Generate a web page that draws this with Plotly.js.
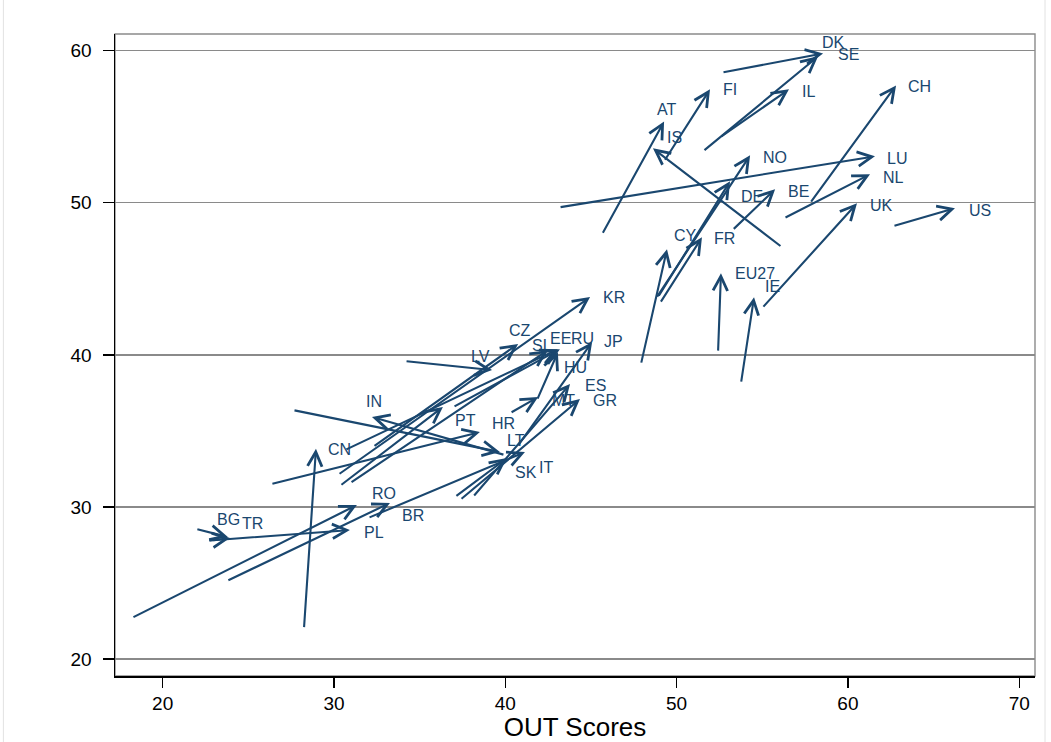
<!DOCTYPE html>
<html>
<head>
<meta charset="utf-8">
<script src="https://cdn.plot.ly/plotly-3.0.1.min.js"></script>
<style>
  html, body { margin: 0; padding: 0; background: #fff; }
  #chart { width: 1051px; height: 742px; }
</style>
</head>
<body>
<div id="chart"></div>
<script>
// Country codes and the start / end of each country's move
const country = ['DK','SE','IL','FI','AT','IS','CH','LU','NO','DE','BE','NL','UK','US','CY','FR','EU27','IE',
                 'KR','CZ','SL','EE','RU','HU','JP','LV','ES','GR','MT','HR','PT','LT','IN','SK','IT',
                 'CN','RO','BR','PL','BG','TR'];
const outStart = [52.65,51.54,52.53,49.27,45.65,56.15,57.79,43.14,48.81,48.91,53.25,56.27,54.99,62.63,47.92,49.03,52.42,53.76,
                  30.24,32.28,30.94,30.64,36.95,41.85,40.69,34.15,38.11,37.36,40.28,26.32,30.35,27.61,39.98,37.06,31.99,
                  28.25,18.21,23.75,22.87,21.94,22.64];
const inStart  = [58.57,53.38,54.30,52.73,47.93,47.08,49.97,49.70,43.73,43.79,48.19,48.98,43.07,48.46,39.39,43.40,40.18,38.14,
                  32.11,33.95,31.57,33.74,36.56,37.02,33.95,39.59,30.65,30.45,36.17,31.50,31.38,36.37,33.41,30.65,29.27,
                  22.00,22.70,25.13,27.80,28.55,27.76];
const outEnd   = [58.55,58.26,56.56,51.95,49.27,48.62,62.81,61.58,54.29,53.12,55.75,61.29,60.53,66.25,49.44,51.48,52.59,54.52,
                  44.95,40.75,42.49,43.07,43.19,43.07,45.07,39.23,43.78,44.36,41.92,38.52,36.36,39.69,32.22,40.10,41.15,
                  28.95,31.34,33.27,30.93,23.81,23.93];
const inEnd    = [59.82,59.63,57.46,57.46,55.35,53.58,57.72,53.06,53.12,51.41,50.89,51.87,49.97,49.64,46.94,47.73,45.37,43.79,
                  43.80,40.72,40.31,40.37,40.37,40.17,40.84,39.00,38.08,37.09,37.22,34.92,36.57,33.61,35.91,33.21,33.61,
                  33.82,30.13,30.26,28.48,28.02,27.96];

// Where each country label sits relative to its arrow tip (pixels)
const labelShift = {
  DK:[-3,11], SE:[18,2], IL:[11,-2], FI:[11,0], AT:[-9,12], IS:[12,11], CH:[10,-1], LU:[10,-2],
  NO:[11,-2], DE:[9,-15], BE:[11,-2], NL:[11,-3], UK:[11,-2], US:[12,-2], CY:[5,14], FR:[10,-1],
  EU27:[12,0], IE:[9,11], KR:[11,0], CZ:[-11,13], SL:[-18,5], EE:[-10,11], RU:[9,11], HU:[4,-15],
  JP:[10,1], LV:[-23,14], ES:[13,-1], GR:[11,-1], MT:[12,-3], HR:[10,9], PT:[10,-13], LT:[5,12],
  IN:[-8,16], SK:[6,-14], IT:[12,-15], CN:[10,-1], RO:[13,11], BR:[10,-13], PL:[12,-2], BG:[-13,18], TR:[10,14]
};

const navy = '#1a476f';
const annotations = [];

country.forEach((c, i) => {
  // arrow from start to end
  annotations.push({
    x: outEnd[i], y: inEnd[i], xref: 'x', yref: 'y',
    ax: outStart[i], ay: inStart[i], axref: 'x', ayref: 'y',
    text: '', showarrow: true, arrowhead: 5, arrowsize: 1.35, arrowwidth: 2.1,
    arrowcolor: navy, standoff: 0, startstandoff: 0
  });
  // country label at the arrow tip
  const s = labelShift[c] || [10, 0];
  annotations.push({
    x: outEnd[i], y: inEnd[i], xref: 'x', yref: 'y',
    text: c, showarrow: false, xanchor: 'left', yanchor: 'middle',
    xshift: s[0], yshift: s[1],
    font: { family: 'Liberation Sans, Arial, sans-serif', size: 16, color: navy }
  });
});

// invisible trace so the axes are built
const traces = [{
  x: outEnd, y: inEnd, type: 'scatter', mode: 'markers',
  marker: { size: 1, color: 'rgba(0,0,0,0)' }, hoverinfo: 'skip'
}];

const layout = {
  width: 1051, height: 742,
  margin: { l: 115, r: 16, t: 34, b: 66 },
  paper_bgcolor: '#ffffff', plot_bgcolor: '#ffffff',
  showlegend: false,
  font: { family: 'Liberation Sans, Arial, sans-serif', color: '#000' },
  xaxis: {
    range: [17.22, 70.92], tickvals: [20, 30, 40, 50, 60, 70],
    ticks: 'outside', ticklen: 10, tickwidth: 1.3, tickcolor: '#000',
    showgrid: false, zeroline: false, showline: true, linecolor: '#000', linewidth: 1.5,
    tickfont: { size: 19, color: '#000' },
    title: { text: 'OUT Scores', font: { size: 26, color: '#000' }, standoff: 0 }
  },
  yaxis: {
    range: [18.88, 61.1], tickvals: [20, 30, 40, 50, 60],
    ticks: 'outside', ticklen: 11, tickwidth: 1.3, tickcolor: '#000',
    showgrid: true, gridcolor: '#8a8a8a', gridwidth: 1.4,
    zeroline: false, showline: true, linecolor: '#000', linewidth: 1.5,
    tickfont: { size: 19, color: '#000' }, ticklabelstandoff: 7
  },
  shapes: [
    // plot region frame
    { type: 'rect', xref: 'paper', yref: 'paper', x0: 0, x1: 1, y0: 0, y1: 1,
      line: { color: '#8a8a8a', width: 1.4 }, layer: 'below' },
    // faint outer graph-region edges
    { type: 'line', xref: 'paper', yref: 'paper', x0: -0.1213, x1: -0.1213, y0: -0.103, y1: 1.053,
      line: { color: '#e2e2e2', width: 1 }, layer: 'below' },
    { type: 'line', xref: 'paper', yref: 'paper', x0: 1.0109, x1: 1.0109, y0: -0.103, y1: 1.053,
      line: { color: '#e2e2e2', width: 1 }, layer: 'below' }
  ],
  annotations: annotations
};

Plotly.newPlot('chart', traces, layout, { staticPlot: true, displayModeBar: false });
</script>
</body>
</html>
